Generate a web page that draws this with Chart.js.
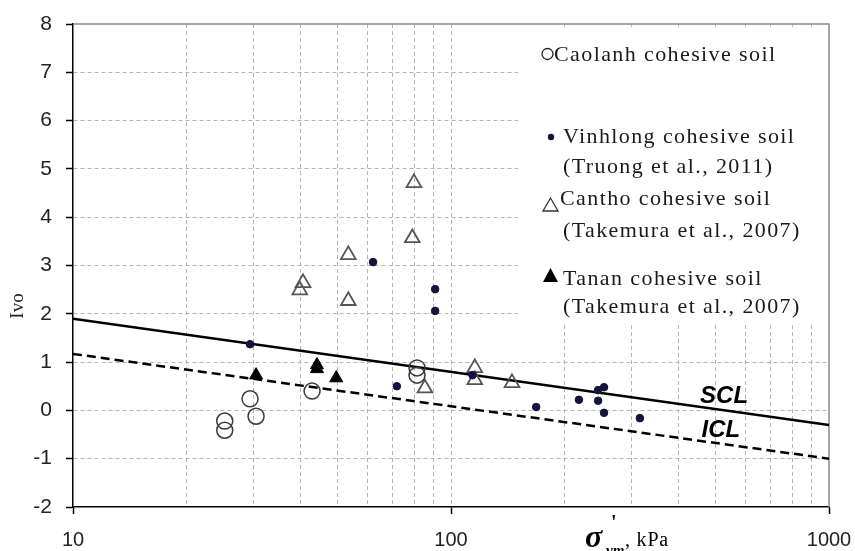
<!DOCTYPE html>
<html><head><meta charset="utf-8">
<script src="https://cdn.jsdelivr.net/npm/chart.js@4/dist/chart.umd.min.js"></script>
<style>html,body{margin:0;padding:0;background:#fff}#wrap{width:855px;height:551px}</style>
</head><body><div id="wrap"><canvas id="c" width="855" height="551"></canvas></div>
<script>
// ---- data ----
const caolanhX = [25.2, 25.2, 29.4, 30.5, 42.9, 81.3, 81.3];
const caolanhY = [-0.22, -0.41, 0.24, -0.12, 0.40, 0.88, 0.73];

const vinhlongX = [29.4, 62.2, 90.8, 90.8, 71.9, 114, 168, 218, 245, 245, 254, 254, 316];
const vinhlongY = [1.37, 3.07, 2.51, 2.06, 0.50, 0.73, 0.07, 0.22, 0.20, 0.42, 0.48, -0.05, -0.16];

const canthoX = [79.8, 79.0, 53.5, 53.5, 40.6, 39.8, 85.3, 115.6, 115.6, 145];
const canthoY = [4.71, 3.57, 3.22, 2.27, 2.64, 2.49, 0.46, 0.88, 0.63, 0.57];

const tananX = [30.5, 44.2, 44.2, 49.7];
const tananY = [0.73, 0.94, 0.86, 0.67];

const lineX = [10, 1000];
const sclY = [1.9, -0.3];
const iclY = [1.17, -1.0];

const xTickValues = [10,20,30,40,50,60,70,80,90,100,200,300,400,500,600,700,800,900,1000];
const xMajorTicks = [10, 100, 1000];
const yTickMin = -2, yTickMax = 8, yTickStep = 1;

const legendLines = [
  ['Caolanh cohesive soil'],
  ['Vinhlong cohesive soil', '(Truong et al., 2011)'],
  ['Cantho cohesive soil', '(Takemura et al., 2007)'],
  ['Tanan cohesive soil', '(Takemura et al., 2007)']
];
const lineLabels = [
  {text: 'SCL', x: 456, y: 0.16},
  {text: 'ICL', x: 460, y: -0.55}
];

const pts = (xs, ys) => xs.map((x, i) => ({x: x, y: ys[i]}));

const serif = '"Liberation Serif", "Times New Roman", serif';
const sans = '"Liberation Sans", Arial, sans-serif';

const decor = {
  id: 'decor',
  beforeDatasetsDraw(chart) {
    const {ctx, chartArea: a} = chart;
    ctx.save();
    ctx.strokeStyle = '#8a8a8a';
    ctx.lineWidth = 1.5;
    ctx.beginPath();
    ctx.moveTo(a.left, a.top); ctx.lineTo(a.right, a.top); ctx.lineTo(a.right, a.bottom);
    ctx.stroke();
    ctx.fillStyle = '#fff';
    ctx.fillRect(518, a.top + 3, a.right - 519.5, 322 - a.top - 3);
    ctx.restore();
  },
  afterDatasetsDraw(chart) {
    const {ctx, scales} = chart;
    ctx.save();
    ctx.fillStyle = '#1a1a1a';
    ctx.font = '22px ' + serif;
    ctx.textBaseline = 'alphabetic';
    try { ctx.letterSpacing = '1.4px'; } catch (e) {}
    const rows = [[61], [143, 173], [205, 237], [285, 313]];
    const starts = [[554], [563, 563], [560, 563], [563, 563]];
    rows.forEach((r, i) => {
      r.forEach((yb, j) => ctx.fillText(legendLines[i][j], starts[i][j], yb));
    });
    try { ctx.letterSpacing = '0px'; } catch (e) {}
    ctx.lineWidth = 1.3;
    ctx.strokeStyle = '#222';
    ctx.beginPath(); ctx.arc(547.5, 54, 5.5, 0, Math.PI * 2); ctx.stroke();
    ctx.fillStyle = '#14143c';
    ctx.beginPath(); ctx.arc(551, 137, 3.2, 0, Math.PI * 2); ctx.fill();
    ctx.strokeStyle = '#333';
    ctx.beginPath(); ctx.moveTo(550.5, 198); ctx.lineTo(558, 211); ctx.lineTo(543, 211); ctx.closePath(); ctx.stroke();
    ctx.fillStyle = '#000';
    ctx.beginPath(); ctx.moveTo(550.5, 268); ctx.lineTo(558, 282); ctx.lineTo(543, 282); ctx.closePath(); ctx.fill();

    ctx.font = 'italic bold 24px ' + sans;
    ctx.fillStyle = '#000';
    lineLabels.forEach(l => {
      ctx.fillText(l.text, scales.x.getPixelForValue(l.x), scales.y.getPixelForValue(l.y));
    });

    ctx.save();
    ctx.translate(23, 306);
    ctx.rotate(-Math.PI / 2);
    ctx.font = '19px ' + serif;
    ctx.textAlign = 'center';
    ctx.fillStyle = '#222';
    ctx.fillText('Ivo', 0, 0);
    ctx.restore();

    ctx.fillStyle = '#000';
    ctx.font = 'italic bold 32px ' + serif;
    ctx.fillText('σ', 585, 547);
    ctx.font = 'bold 20px ' + serif;
    ctx.fillText("'", 611, 529);
    ctx.font = 'bold italic 15px ' + serif;
    ctx.fillText('vm', 606, 555);
    ctx.font = '20px ' + serif;
    try { ctx.letterSpacing = '0.8px'; } catch (e) {}
    ctx.fillText(', kPa', 625, 546);
    try { ctx.letterSpacing = '0px'; } catch (e) {}
    ctx.restore();
  }
};

new Chart(document.getElementById('c'), {
  type: 'scatter',
  data: {
    datasets: [
      {label: 'SCL', type: 'line', data: pts(lineX, sclY), showLine: true, pointRadius: 0,
       borderColor: '#000', borderWidth: 2.5, fill: false, order: 5},
      {label: 'ICL', type: 'line', data: pts(lineX, iclY), showLine: true, pointRadius: 0,
       borderColor: '#000', borderWidth: 2.5, borderDash: [9, 5], fill: false, order: 5},
      {label: 'Caolanh cohesive soil', data: pts(caolanhX, caolanhY), pointStyle: 'circle', pointRadius: 8,
       backgroundColor: 'rgba(255,255,255,0)', borderColor: '#3a3a3a', borderWidth: 1.5, order: 1},
      {label: 'Vinhlong cohesive soil', data: pts(vinhlongX, vinhlongY), pointStyle: 'circle', pointRadius: 3.8,
       backgroundColor: '#14143c', borderColor: '#14143c', borderWidth: 1, order: 2},
      {label: 'Cantho cohesive soil', data: pts(canthoX, canthoY), pointStyle: 'triangle', pointRadius: 8.5,
       backgroundColor: 'rgba(255,255,255,0)', borderColor: '#555', borderWidth: 1.8, order: 3},
      {label: 'Tanan cohesive soil', data: pts(tananX, tananY), pointStyle: 'triangle', pointRadius: 7.5,
       backgroundColor: '#000', borderColor: '#000', borderWidth: 1, order: 4}
    ]
  },
  options: {
    responsive: false,
    devicePixelRatio: 1,
    animation: false,
    layout: {padding: {top: 24, right: 26, left: 0, bottom: 0}},
    plugins: {legend: {display: false}, tooltip: {enabled: false}},
    scales: {
      x: {
        type: 'logarithmic', min: 10, max: 1000, position: 'bottom',
        afterBuildTicks: s => { s.ticks = xTickValues.map(v => ({value: v, major: xMajorTicks.includes(v)})); },
        afterFit: s => { s.height = 44; s.paddingLeft = 0; s.paddingRight = 0; },
        ticks: {
          autoSkip: false, maxRotation: 0, padding: 14, color: '#222',
          font: {family: sans, size: 20},
          callback: v => xMajorTicks.includes(v) ? String(v) : ''
        },
        grid: {
          color: c => (c.tick && (c.tick.value === 10 || c.tick.value === 1000)) ? 'rgba(0,0,0,0)' : '#b4b4b4',
          lineWidth: 1,
          tickColor: c => (c.tick && xMajorTicks.includes(c.tick.value)) ? '#000' : 'rgba(0,0,0,0)',
          tickLength: 7, tickWidth: 1.5
        },
        border: {display: true, color: '#000', width: 1.5, dash: [4, 3]}
      },
      y: {
        type: 'linear', min: yTickMin, max: yTickMax,
        afterFit: s => { s.width = 73; s.paddingTop = 0; s.paddingBottom = 0; },
        ticks: {stepSize: yTickStep, padding: 14, color: '#222', font: {family: sans, size: 21}},
        grid: {
          color: c => (c.tick && (c.tick.value === yTickMin || c.tick.value === yTickMax)) ? 'rgba(0,0,0,0)' : '#b4b4b4',
          lineWidth: 1, tickColor: '#000', tickLength: 7, tickWidth: 1.5
        },
        border: {display: true, color: '#000', width: 1.5, dash: [4, 3]}
      }
    }
  },
  plugins: [decor]
});
</script>
</body></html>
